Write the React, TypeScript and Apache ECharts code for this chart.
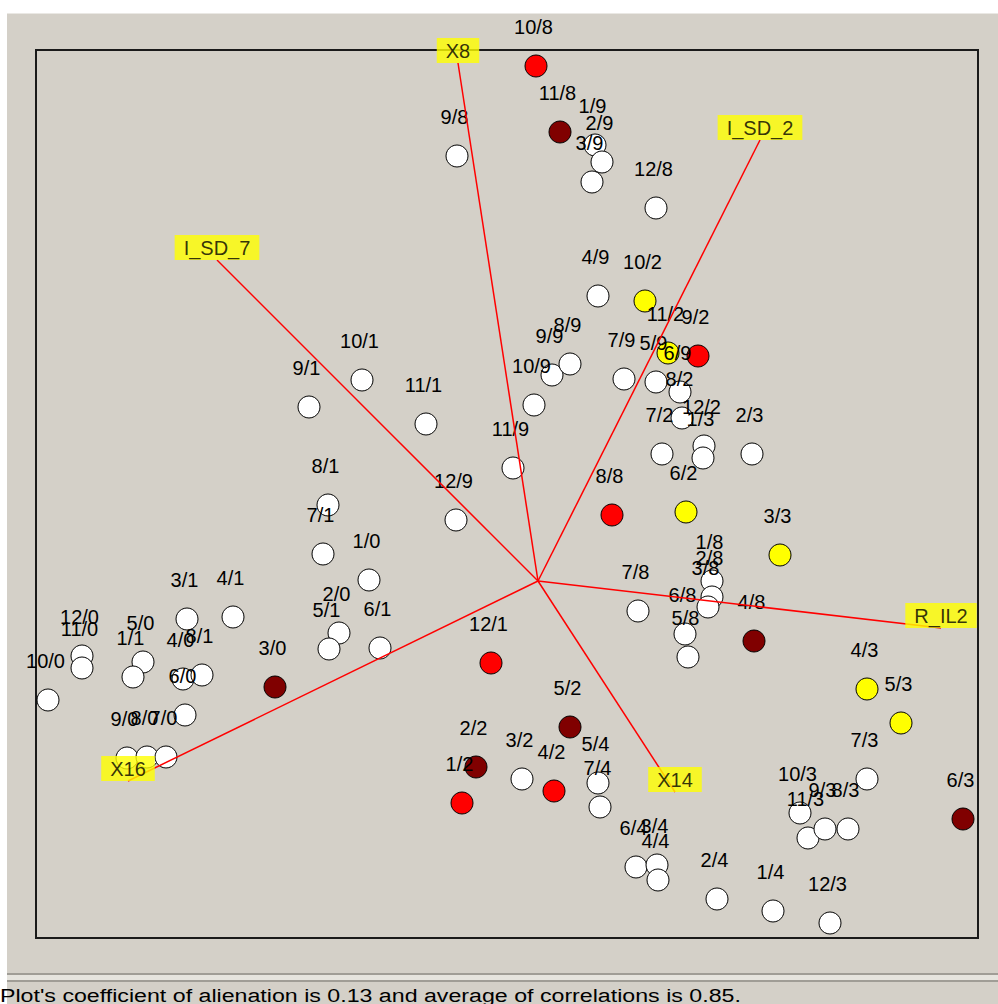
import React, { useEffect, useRef } from "react";
import * as echarts from "echarts";

// ---- Observations (biplot coordinates) ----
const pointLabels = [
  "10/8", "11/8", "1/9", "2/9", "3/9", "9/8", "12/8", "4/9", "10/2", "11/2",
  "9/2", "7/9", "5/9", "6/9", "8/2", "12/2", "7/2", "1/3", "2/3", "6/2",
  "8/8", "3/3", "11/9", "10/9", "9/9", "8/9", "10/1", "9/1", "11/1", "8/1",
  "7/1", "12/9", "1/0", "3/1", "4/1", "2/0", "5/1", "6/1", "3/0", "12/0",
  "11/0", "10/0", "5/0", "1/1", "4/0", "8/1", "6/0", "9/0", "8/0", "7/0",
  "12/1", "2/2", "1/2", "5/2", "3/2", "4/2", "5/4", "7/4", "7/8", "1/8",
  "2/8", "3/8", "6/8", "5/8", "4/8", "4/3", "5/3", "7/3", "6/3", "10/3",
  "11/3", "9/3", "8/3", "6/4", "3/4", "4/4", "2/4", "1/4", "12/3",
];
const pointX = [
  -0.02, 0.22, 0.57, 0.64, 0.54, -0.81, 1.18, 0.60, 1.07, 1.30,
  1.60, 0.86, 1.18, 1.42, 1.44, 1.66, 1.24, 1.65, 2.14, 1.48,
  0.74, 2.42, -0.25, -0.04, 0.14, 0.32, -1.76, -2.29, -1.12, -2.10,
  -2.15, -0.82, -1.69, -3.51, -3.05, -1.99, -2.09, -1.58, -2.63, -4.56,
  -4.56, -4.90, -3.95, -4.05, -3.55, -3.36, -3.53, -4.11, -3.91, -3.72,
  -0.47, -0.62, -0.76, 0.32, -0.16, 0.16, 0.60, 0.62, 1.00, 1.74,
  1.74, 1.70, 1.47, 1.50, 2.16, 3.29, 3.63, 3.29, 4.25, 2.62,
  2.70, 2.87, 3.10, 0.98, 1.19, 1.20, 1.79, 2.35, 2.92,
];
const pointY = [
  5.15, 4.49, 4.36, 4.19, 3.99, 4.25, 3.73, 2.85, 2.80, 2.28,
  2.25, 2.02, 1.99, 1.89, 1.63, 1.35, 1.27, 1.23, 1.27, 0.69,
  0.66, 0.26, 1.13, 1.76, 2.06, 2.17, 2.01, 1.74, 1.57, 0.76,
  0.27, 0.61, 0.01, -0.38, -0.36, -0.52, -0.68, -0.67, -1.06, -0.75,
  -0.87, -1.19, -0.81, -0.96, -0.98, -0.94, -1.34, -1.77, -1.76, -1.76,
  -0.82, -1.86, -2.22, -1.46, -1.98, -2.10, -2.02, -2.26, -0.30, 0.0,
  -0.16, -0.26, -0.53, -0.76, -0.60, -1.08, -1.42, -1.98, -2.38, -2.32,
  -2.57, -2.48, -2.48, -2.86, -2.84, -2.99, -3.18, -3.30, -3.42,
];
// 0 = white, 1 = yellow, 2 = red, 3 = dark red
const pointGroup = [
  2, 3, 0, 0, 0, 0, 0, 0, 1, 1,
  2, 0, 0, 0, 0, 0, 0, 0, 0, 1,
  2, 1, 0, 0, 0, 0, 0, 0, 0, 0,
  0, 0, 0, 0, 0, 0, 0, 0, 3, 0,
  0, 0, 0, 0, 0, 0, 0, 0, 0, 0,
  2, 3, 2, 3, 0, 2, 0, 0, 0, 0,
  0, 0, 0, 0, 3, 1, 1, 0, 3, 0,
  0, 0, 0, 0, 0, 0, 0, 0, 0,
];

// ---- Variables (vectors from origin) ----
const varNames = ["X8", "I_SD_2", "I_SD_7", "R_IL2", "X16", "X14"];
const varX = [-0.80, 2.22, -3.21, 4.03, -4.10, 1.37];
const varY = [5.18, 4.41, 3.21, -0.47, -2.00, -2.11];
const originX = 0;
const originY = 0;

const groupColors = ["#FFFFFF", "#FFFF00", "#FF0000", "#800000"];
const statusText =
  "Plot's coefficient of alienation is 0.13 and average of correlations is 0.85.";

export default function App() {
  const ref = useRef<HTMLDivElement>(null);
  useEffect(() => {
    if (!ref.current) return;
    const chart = echarts.init(ref.current, undefined, { renderer: "svg" });
    const font = "Liberation Sans, Arial, sans-serif";
    const symSize = 22;
    const boxSym = 2;
    const option: any = {
      animation: false,
      backgroundColor: "#D4D0C8",
      grid: {
        left: 36,
        top: 50,
        width: 942,
        height: 888,
        show: true,
        borderColor: "#1a1a1a",
        borderWidth: 2,
        backgroundColor: "transparent",
      },
      xAxis: { type: "value", min: -5.02, max: 4.4, show: false },
      yAxis: { type: "value", min: -3.57, max: 5.31, show: false },
      graphic: [
        { type: "rect", shape: { x: 0, y: 0, width: 998, height: 13.5 }, style: { fill: "#ffffff" }, silent: true },
        { type: "rect", shape: { x: 0, y: 0, width: 7, height: 1004 }, style: { fill: "#ffffff" }, silent: true },
        { type: "rect", shape: { x: 7, y: 973, width: 991, height: 2 }, style: { fill: "#a09d96" }, silent: true },
        { type: "rect", shape: { x: 7, y: 975, width: 991, height: 5 }, style: { fill: "#e6e4de" }, silent: true },
        { type: "rect", shape: { x: 7, y: 980, width: 991, height: 2 }, style: { fill: "#a09d96" }, silent: true },
        {
          type: "text",
          x: 0,
          y: 986,
          scaleX: 1.22,
          style: { text: statusText, font: "19px " + font, fill: "#000", verticalAlign: "top" },
          silent: true,
        },
      ],
      series: [
        {
          type: "scatter",
          clip: false,
          z: 2,
          symbol: "circle",
          symbolSize: symSize,
          data: pointLabels.map((name, i) => ({
            name,
            value: [pointX[i], pointY[i]],
            itemStyle: { color: groupColors[pointGroup[i]] },
          })),
          itemStyle: { borderColor: "#000", borderWidth: 1, opacity: 1 },
          label: {
            show: true,
            position: [symSize / 2 - 2, symSize / 2 - 39],
            align: "center",
            verticalAlign: "middle",
            formatter: "{b}",
            color: "#000",
            fontSize: 20,
            fontFamily: font,
          },
          labelLayout: { hideOverlap: false },
          emphasis: { disabled: true },
        },
        {
          type: "lines",
          coordinateSystem: "cartesian2d",
          z: 3,
          silent: true,
          data: varNames.map((n, i) => ({
            name: n,
            coords: [
              [originX, originY],
              [varX[i], varY[i]],
            ],
          })),
          lineStyle: { color: "#FF0000", width: 1.5, opacity: 1, curveness: 0 },
        },
        {
          type: "scatter",
          clip: false,
          z: 4,
          symbol: "circle",
          symbolSize: boxSym,
          itemStyle: { color: "rgba(0,0,0,0)" },
          data: varNames.map((name, i) => ({ name, value: [varX[i], varY[i]] })),
          label: {
            show: true,
            position: [boxSym / 2, boxSym / 2],
            align: "center",
            verticalAlign: "bottom",
            formatter: "{b}",
            color: "#000",
            fontSize: 20,
            fontFamily: font,
            lineHeight: 20,
            backgroundColor: "#FFFF00",
            padding: [3, 9, 2, 9],
          },
          emphasis: { disabled: true },
        },
      ],
    };
    chart.setOption(option);
    return () => chart.dispose();
  }, []);
  return (
    <div
      ref={ref}
      style={{ position: "absolute", left: 0, top: 0, width: 998, height: 1004 }}
    />
  );
}
